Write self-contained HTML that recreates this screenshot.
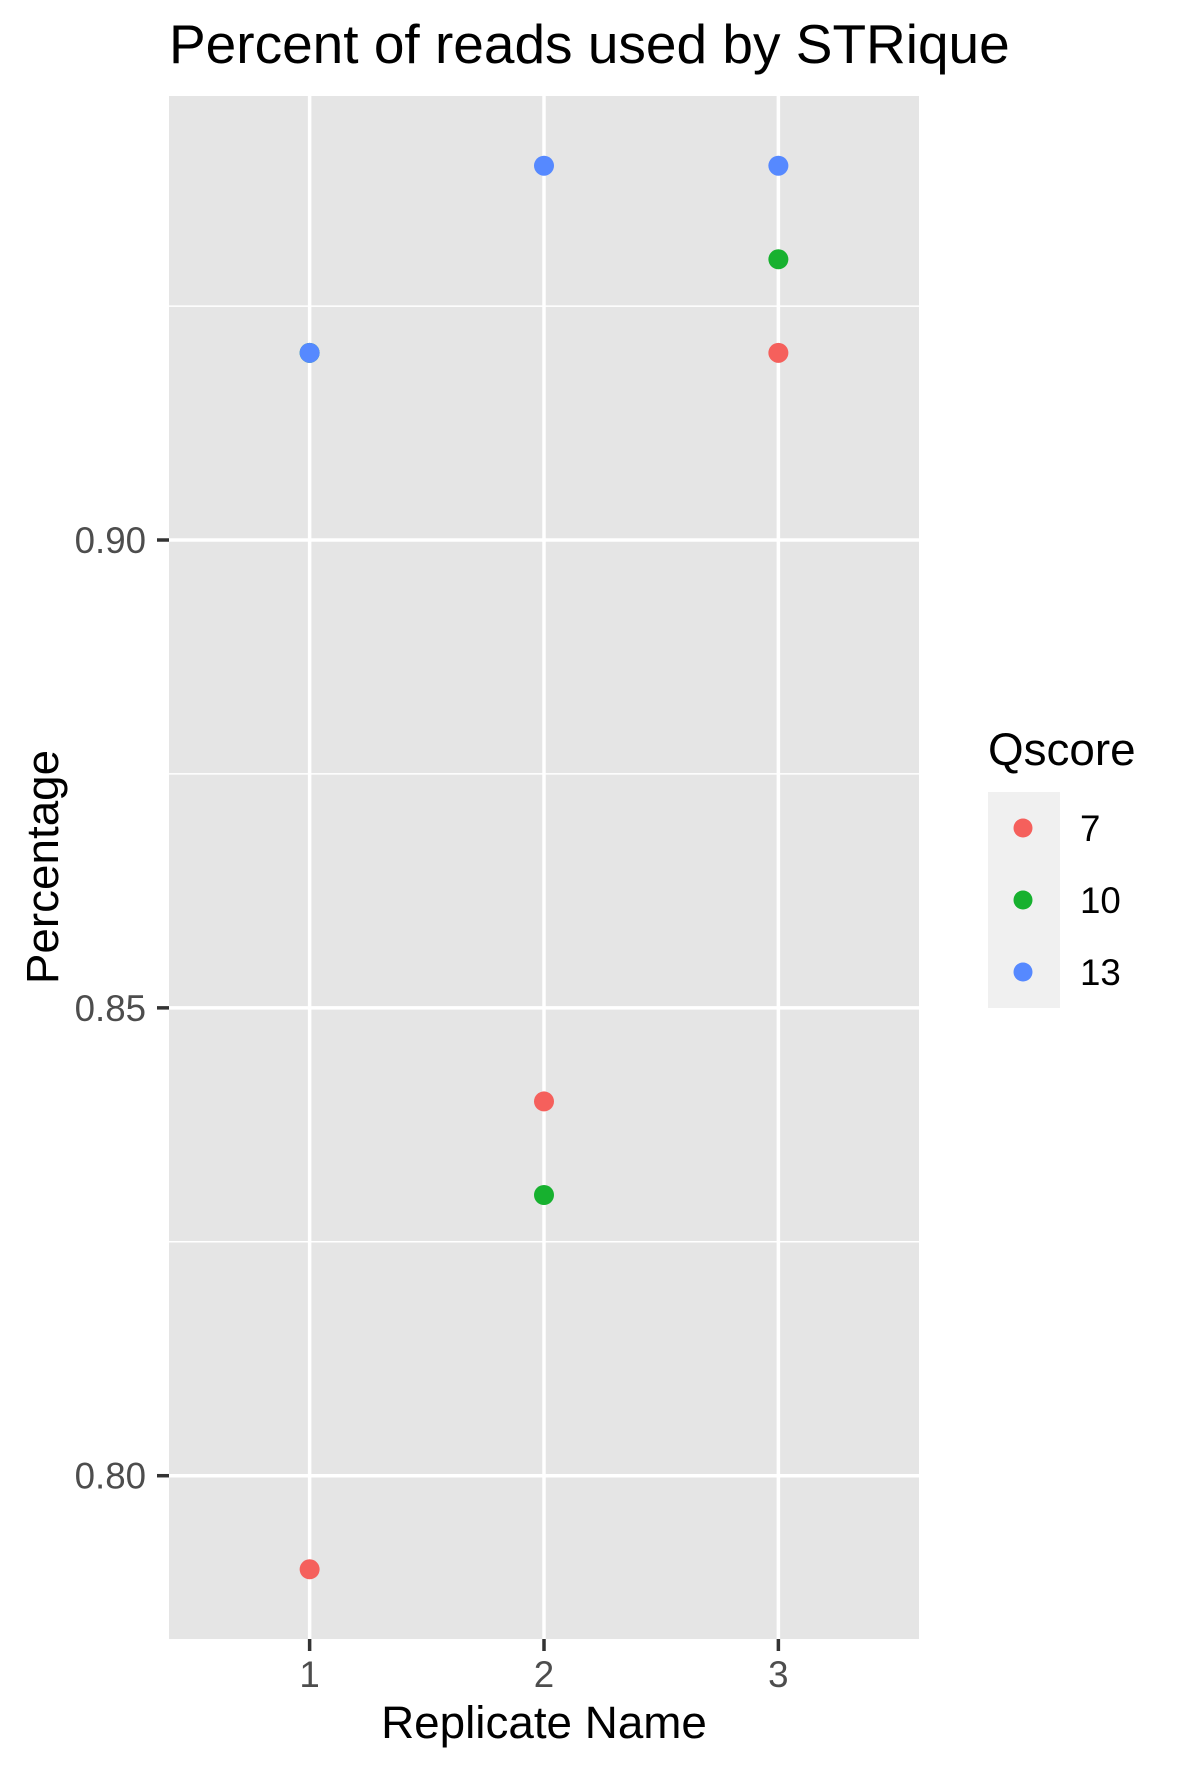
<!DOCTYPE html>
<html><head><meta charset="utf-8"><style>
body{margin:0;background:#fff}
svg{display:block;font-family:"Liberation Sans",Arial,sans-serif}
</style></head><body>
<svg id="chart" width="1181" height="1771" viewBox="0 0 1181 1771" xmlns="http://www.w3.org/2000/svg">
<rect width="1181" height="1771" fill="#fff"/>
<text x="169" y="63" font-size="55" fill="#000">Percent of reads used by STRique</text>
<rect x="169" y="96" width="750" height="1543" fill="#e5e5e5"/>
<g id="grid"></g>
<g id="axes"></g>
<g id="points"></g>
<text x="544" y="1738" font-size="45.8" text-anchor="middle" fill="#000">Replicate Name</text>
<text transform="translate(58,867) rotate(-90)" font-size="45.8" text-anchor="middle" fill="#000">Percentage</text>
<g>
<text x="988" y="765" font-size="45.8" fill="#000">Qscore</text>
<rect x="988" y="792" width="72" height="216" fill="#f0f0f0"/>
<g id="legend-keys"></g>
</g>
</svg>
<script>
const categories = [1, 2, 3];
const qscores = ["7", "10", "13"];
const colors = ["#F5605C", "#17B12F", "#5689FF"];
const q7Values = [0.79, 0.84, 0.92];
const q10Values = [0.92, 0.83, 0.93];
const q13Values = [0.92, 0.94, 0.94];
const yMajorTicks = [0.80, 0.85, 0.90];
const yTickLabels = ["0.80", "0.85", "0.90"];
const yMinorTicks = [0.825, 0.875, 0.925];

const NS = "http://www.w3.org/2000/svg";
const PX0 = 169, PX1 = 919, PY0 = 96, PY1 = 1639;
const xMin = 0.4, xMax = 3.6;
const yMin = 0.78255, yMax = 0.94745;
function xScale(v){ return PX0 + (v - xMin) / (xMax - xMin) * (PX1 - PX0); }
function yScale(v){ return PY1 - (v - yMin) / (yMax - yMin) * (PY1 - PY0); }
function mk(tag, attrs){ const e = document.createElementNS(NS, tag); for (const k in attrs) e.setAttribute(k, attrs[k]); return e; }

const grid = document.getElementById('grid');
yMinorTicks.forEach(v => {
  const l = mk('line', {x1: PX0, x2: PX1, y1: yScale(v), y2: yScale(v), stroke: '#fff', 'stroke-width': 1.5});
  
  
  grid.appendChild(l);
});
yMajorTicks.forEach(v => {
  const l = mk('line', {x1: PX0, x2: PX1, y1: yScale(v), y2: yScale(v), stroke: '#fff', 'stroke-width': 3.5});
  
  
  grid.appendChild(l);
});
categories.forEach(c => {
  const l = mk('line', {x1: xScale(c), x2: xScale(c), y1: PY0, y2: PY1, stroke: '#fff', 'stroke-width': 3.5});
  
  
  grid.appendChild(l);
});

const axes = document.getElementById('axes');
yMajorTicks.forEach((v, i) => {
  const y = yScale(v);
  const t = mk('line', {x1: 157, x2: PX0, y1: y, y2: y, stroke: '#333', 'stroke-width': 3.5});
  
  
  axes.appendChild(t);
  const tx = mk('text', {x: 146, y: y + 13, 'font-size': 36.7, 'text-anchor': 'end', fill: '#4d4d4d'});
  tx.textContent = yTickLabels[i];
  
  
  axes.appendChild(tx);
});
categories.forEach(c => {
  const x = xScale(c);
  const t = mk('line', {x1: x, x2: x, y1: PY1, y2: PY1 + 12, stroke: '#333', 'stroke-width': 3.5});
  
  
  axes.appendChild(t);
  const tx = mk('text', {x: x, y: 1687, 'font-size': 36.7, 'text-anchor': 'middle', fill: '#4d4d4d'});
  tx.textContent = String(c);
  
  
  axes.appendChild(tx);
});

const pts = document.getElementById('points');
[q7Values, q10Values, q13Values].forEach((series, si) => {
  series.forEach((v, i) => {
    const c = mk('circle', {cx: xScale(categories[i]), cy: yScale(v), r: 10, fill: colors[si]});
    
    
    pts.appendChild(c);
  });
});

const lk = document.getElementById('legend-keys');
qscores.forEach((q, i) => {
  const cy = 828 + i * 72;
  const c = mk('circle', {cx: 1023, cy: cy, r: 9.5, fill: colors[i]});
  
  
  lk.appendChild(c);
  const t = mk('text', {x: 1080, y: cy + 13, 'font-size': 36.7, fill: '#000'});
  t.textContent = q;
  
  
  lk.appendChild(t);
});
</script>
</body></html>
